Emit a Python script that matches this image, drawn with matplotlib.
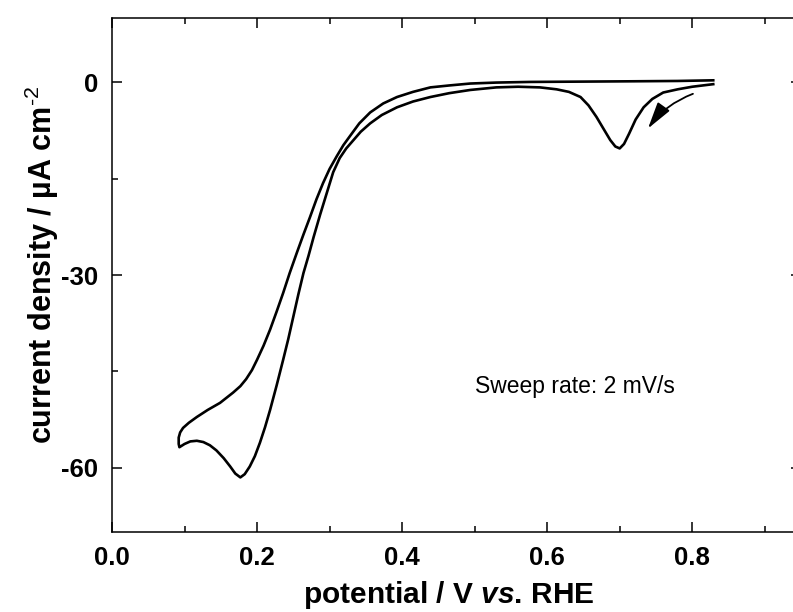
import matplotlib
matplotlib.use("Agg")
import matplotlib.pyplot as plt
from matplotlib.ticker import MultipleLocator

plt.rcParams['font.family'] = ['Liberation Sans', 'DejaVu Sans']
plt.rcParams['mathtext.fontset'] = 'custom'
plt.rcParams['mathtext.rm'] = 'Liberation Sans'
plt.rcParams['mathtext.it'] = 'Liberation Sans:italic:bold'
plt.rcParams['mathtext.bf'] = 'Liberation Sans:bold'
plt.rcParams['axes.unicode_minus'] = False

# cathodic sweep (0.83 V -> 0.09 V)
cath_v = [0.829, 0.80, 0.78, 0.76, 0.745, 0.733, 0.722, 0.713, 0.706, 0.700,
          0.694, 0.687, 0.678, 0.668, 0.657, 0.646, 0.630, 0.613, 0.590, 0.560,
          0.530, 0.494, 0.465, 0.439, 0.415, 0.393, 0.372, 0.356, 0.343, 0.333,
          0.323, 0.314, 0.305, 0.296, 0.287, 0.278, 0.271, 0.264, 0.257, 0.250,
          0.243, 0.236, 0.227, 0.218, 0.211, 0.204, 0.197, 0.190, 0.183, 0.177,
          0.170, 0.163, 0.154, 0.144, 0.135, 0.126, 0.117, 0.108, 0.100, 0.093]
cath_j = [-0.3, -0.7, -1.1, -1.6, -2.6, -3.9, -5.8, -8.0, -9.6, -10.3,
          -10.0, -9.0, -7.3, -5.4, -3.6, -2.3, -1.5, -1.1, -0.8, -0.7,
          -0.8, -1.2, -1.7, -2.3, -3.0, -3.9, -5.1, -6.4, -7.7, -9.0,
          -10.3, -11.8, -14.0, -17.3, -20.6, -24.1, -27.0, -29.7, -33.0, -36.5,
          -40.0, -43.2, -47.2, -51.0, -53.7, -56.1, -58.2, -59.8, -61.0, -61.5,
          -60.9, -59.8, -58.5, -57.3, -56.5, -56.0, -55.8, -55.9, -56.3, -56.8]

# anodic sweep (0.09 V -> 0.83 V)
anod_v = [0.092, 0.092, 0.094, 0.098, 0.106, 0.117, 0.132, 0.149, 0.158, 0.167,
          0.177, 0.185, 0.193, 0.200, 0.209, 0.218, 0.227, 0.236, 0.245, 0.255,
          0.264, 0.273, 0.282, 0.291, 0.300, 0.310, 0.319, 0.328, 0.341, 0.356,
          0.374, 0.393, 0.415, 0.439, 0.465, 0.494, 0.530, 0.577, 0.650, 0.720,
          0.780, 0.829]
anod_j = [-56.3, -55.3, -54.5, -53.8, -53.0, -52.1, -51.0, -49.9, -49.1, -48.3,
          -47.3, -46.2, -44.8, -43.2, -41.0, -38.5, -35.7, -32.8, -29.7, -26.5,
          -23.7, -21.0, -18.2, -15.7, -13.5, -11.5, -9.8, -8.4, -6.4, -4.7,
          -3.3, -2.3, -1.5, -0.8, -0.5, -0.2, -0.05, 0.05, 0.1, 0.15,
          0.2, 0.3]

fig = plt.figure(figsize=(7.93, 6.12), dpi=100)
ax = fig.add_axes([0.1412, 0.1307, 0.8689, 0.8399])

ax.plot(cath_v + anod_v, cath_j + anod_j, color='black', lw=1.9)

ax.annotate('', xy=(0.739, -7.2), xytext=(0.801, -1.8),
            arrowprops=dict(arrowstyle='-|>,head_length=1.1,head_width=0.3',
                            connectionstyle='arc3,rad=0.15', lw=1.3,
                            color='black', mutation_scale=15,
                            shrinkA=0, shrinkB=0))

ax.text(0.638, -47.4, 'Sweep rate: 2 mV/s', fontsize=16.5, ha='center', va='center')

ax.set_xlim(0, 0.95)
ax.set_ylim(-70, 10)
ax.xaxis.set_major_locator(MultipleLocator(0.2))
ax.xaxis.set_minor_locator(MultipleLocator(0.1))
ax.yaxis.set_major_locator(MultipleLocator(30))
ax.yaxis.set_minor_locator(MultipleLocator(15))
ax.xaxis.set_major_formatter(plt.FormatStrFormatter('%.1f'))

ax.tick_params(which='both', direction='in', top=True, right=True, width=1.1)
ax.tick_params(which='major', length=7.5, labelsize=18.5, pad=10)
ax.tick_params(which='minor', length=4)
for lab in ax.get_xticklabels() + ax.get_yticklabels():
    lab.set_fontweight('bold')
for s in ax.spines.values():
    s.set_linewidth(1.1)

ax.set_xlabel(r'potential / V $\mathit{vs}$. RHE', fontsize=21.5, fontweight='bold')
ax.set_ylabel(r'current density / µA cm$^{\text{-2}}$', fontsize=22, fontweight='bold')
ax.xaxis.set_label_coords(0.489, -0.092)
ax.yaxis.set_label_coords(-0.074, 0.52)

fig.savefig('out.png', dpi=100)
